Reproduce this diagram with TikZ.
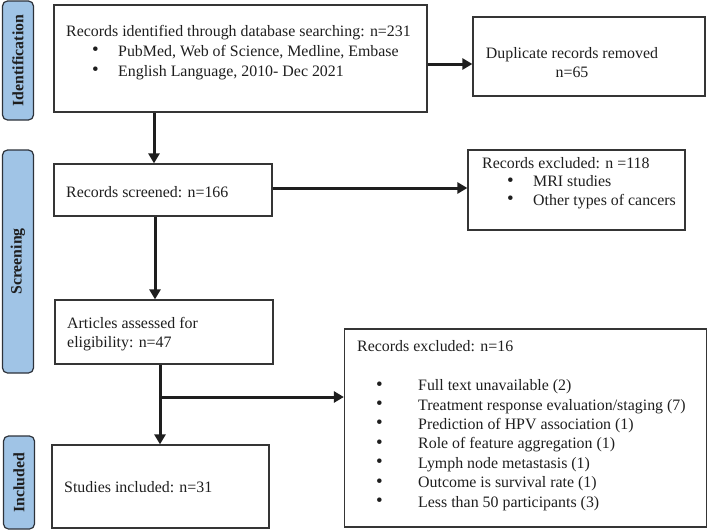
\documentclass[tikz,border=0pt]{standalone}
\usepackage{fontspec}
\setmainfont{Liberation Serif}
\usetikzlibrary{arrows.meta}
\definecolor{sideblue}{RGB}{160,196,230}
\definecolor{sideedge}{RGB}{45,50,58}
\definecolor{ink}{RGB}{30,30,30}
\newcommand\bitem[3]{\makebox[#1][l]{\hspace*{#2}\raisebox{0.5pt}{\fontsize{19}{19}\selectfont\textbullet}}#3}
\begin{document}
\begin{tikzpicture}[x=1pt,y=-1pt,
  box/.style={draw=ink!90,line width=1.2pt,inner sep=0pt},
  side/.style={draw=sideedge,fill=sideblue,rounded corners=5pt,line width=1.2pt,inner sep=0pt,rotate=90,minimum height=31pt,font=\fontsize{15.8}{17}\selectfont\bfseries,text=ink},
  txt/.style={anchor=base west,inner sep=0pt,align=left,text=ink},
  ctxt/.style={anchor=base,inner sep=0pt,align=center,text=ink},
  arr/.style={line width=3pt,draw=ink,-{Triangle[length=10pt,width=11pt]}}]
\useasboundingbox (0,0) rectangle (709,530);
% side labels
\node[side,minimum width=119pt] (s1) at (18,60.5) {Identification};
\node[side,minimum width=223pt] (s2) at (18,261.5) {Screening};
\node[side,minimum width=93pt] (s3) at (19,482.5) {Included};
% boxes
\node[box,minimum width=373pt,minimum height=107pt] (b1) at (240.5,58.5) {};
\node[box,minimum width=232pt,minimum height=79pt] (dup) at (589,56.5) {};
\node[box,minimum width=218pt,minimum height=52pt] (scr) at (163,190) {};
\node[box,minimum width=217pt,minimum height=80pt] (ex1) at (576.5,190) {};
\node[box,minimum width=218pt,minimum height=64pt] (art) at (164,332) {};
\node[box,minimum width=362pt,minimum height=198pt] (ex2) at (525.5,428) {};
\node[box,minimum width=217pt,minimum height=83pt] (inc) at (160.5,486.5) {};
% texts (base anchor = baseline of last line)
\node[txt,font=\fontsize{15.9}{20}\selectfont] (t1) at (66,76) {Records identified through database searching: n=231\\
\bitem{52pt}{26pt}{PubMed, Web of Science, Medline, Embase}\\
\bitem{52pt}{26pt}{English Language, 2010- Dec 2021}};
\node[ctxt,font=\fontsize{15.9}{19}\selectfont] (t2) at (572,77) {Duplicate records removed\\n=65};
\node[txt,font=\fontsize{15.9}{20}\selectfont] (t3) at (66,197) {Records screened: n=166};
\node[txt,font=\fontsize{15.9}{18.5}\selectfont] (t4) at (482,205) {Records excluded: n =118\\
\bitem{51pt}{25pt}{MRI studies}\\
\bitem{51pt}{25pt}{Other types of cancers}};
\node[txt,font=\fontsize{15.9}{19}\selectfont] (t5) at (67,347) {Articles assessed for\\eligibility: n=47};
\node[txt,font=\fontsize{15.9}{19.4}\selectfont] (t6) at (357,507) {Records excluded: n=16\\[19.4pt]
\bitem{61pt}{19pt}{Full text unavailable (2)}\\
\bitem{61pt}{19pt}{Treatment response evaluation/staging (7)}\\
\bitem{61pt}{19pt}{Prediction of HPV association (1)}\\
\bitem{61pt}{19pt}{Role of feature aggregation (1)}\\
\bitem{61pt}{19pt}{Lymph node metastasis (1)}\\
\bitem{61pt}{19pt}{Outcome is survival rate (1)}\\
\bitem{61pt}{19pt}{Less than 50 participants (3)}};
\node[txt,font=\fontsize{15.9}{20}\selectfont] (t7) at (64,492) {Studies included: n=31};
% connectors
\coordinate (r1) at (0,64);
\coordinate (c1) at (154,0);
\coordinate (r2) at (0,188);
\coordinate (c2) at (155,0);
\coordinate (c3) at (160,0);
\coordinate (br) at (160,397);
\draw[arr] (b1.east |- r1) -- (dup.west |- r1);
\draw[arr] (b1.south -| c1) -- (scr.north -| c1);
\draw[arr] (scr.east |- r2) -- (ex1.west |- r2);
\draw[arr] (scr.south -| c2) -- (art.north -| c2);
\draw[arr] (art.south -| c3) -- (inc.north -| c3);
\draw[arr] (br) -- (ex2.west |- br);
\end{tikzpicture}
\end{document}
